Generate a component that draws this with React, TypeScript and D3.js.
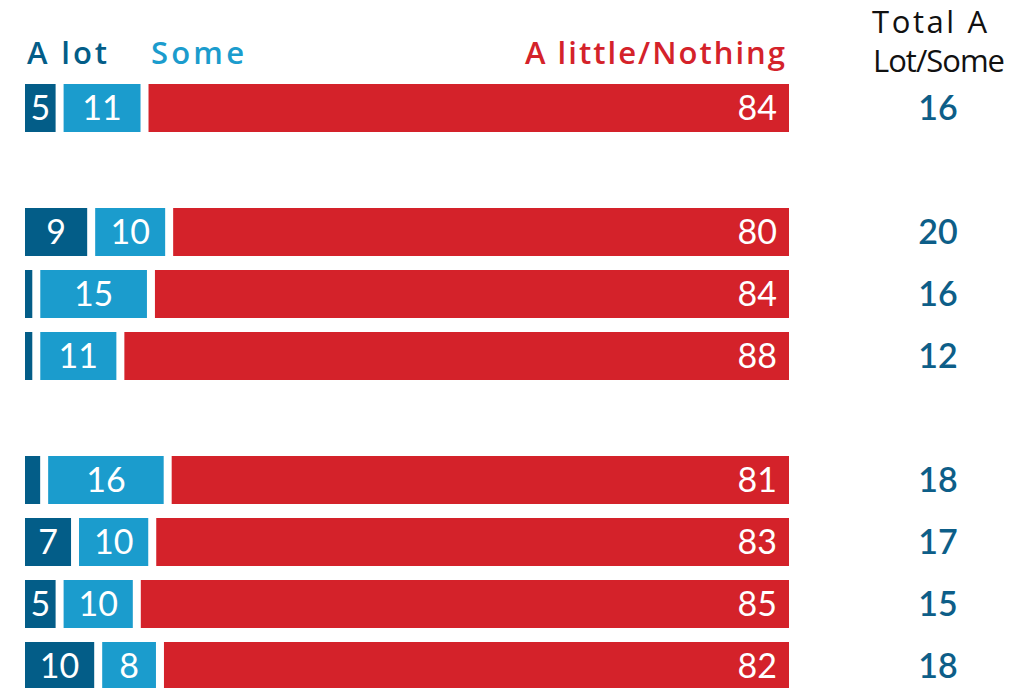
import React from "react";
import * as d3 from "d3";

const rowIds = ["row1", "blank1", "row2", "row3", "row4", "blank2", "row5", "row6", "row7", "row8"];
const barRows = ["row1", "row2", "row3", "row4", "row5", "row6", "row7", "row8"];
const aLot = [5, 9, 2, 2, 3, 7, 5, 10];
const some = [11, 10, 15, 11, 16, 10, 10, 8];
const littleNothing = [84, 80, 84, 88, 81, 83, 85, 82];
const totalALotSome = [16, 20, 16, 12, 18, 17, 15, 18];
const seriesKeys = ["aLot", "some", "little"];
const seriesNames = ["A lot", "Some", "A little/Nothing"];
const totalHeader = ["Total A", "Lot/Some"];
const colors = ["#035d88", "#1b9ccd", "#d4222a"];

const W = 1033;
const H = 688;
const FONT = "Lato, 'Open Sans', sans-serif";
const HFONT = "'Open Sans', Lato, sans-serif";

export default function App() {
  const data = barRows.map((id, i) => ({
    id,
    aLot: aLot[i],
    some: some[i],
    little: littleNothing[i],
    total: totalALotSome[i],
  }));

  const stack = d3.stack<any>().keys(seriesKeys).offset(d3.stackOffsetExpand);
  const series = stack(data);

  const x = d3.scaleLinear().domain([0, 1]).range([25, 797]);
  const y = d3
    .scaleBand<string>()
    .domain(rowIds)
    .range([77, 77 + 62 * rowIds.length])
    .paddingInner(14 / 62)
    .paddingOuter(7 / 62);
  const gap = 8;
  const bw = y.bandwidth();

  return (
    <svg width={W} height={H} style={{ position: "absolute", left: 0, top: 0, background: "#fff" }}>
      {/* headers */}
      <text x={27} y={64} fill={colors[0]} fontFamily={HFONT} fontSize={31} fontWeight={600} textLength={80} lengthAdjust="spacing">
        {seriesNames[0]}
      </text>
      <text x={151} y={64} fill={colors[1]} fontFamily={HFONT} fontSize={31} fontWeight={600} textLength={93} lengthAdjust="spacing">
        {seriesNames[1]}
      </text>
      <text x={525} y={64} fill={colors[2]} fontFamily={HFONT} fontSize={31} fontWeight={600} textLength={260} lengthAdjust="spacing">
        {seriesNames[2]}
      </text>
      <text x={872} y={33} fill="#111" fontFamily={HFONT} fontSize={31} fontWeight={500} textLength={115} lengthAdjust="spacing">
        {totalHeader[0]}
      </text>
      <text x={873} y={72} fill="#111" fontFamily={HFONT} fontSize={31} fontWeight={500} textLength={132} lengthAdjust="spacing">
        {totalHeader[1]}
      </text>

      {series.map((s, si) => (
        <g key={s.key}>
          {s.map((d, i) => {
            const x0 = x(d[0]);
            const w = Math.max(0, x(d[1]) - x0 - gap);
            const yy = y(data[i].id) as number;
            const val = (data[i] as any)[s.key];
            const showLabel = w > 28;
            const lx = si === 2 ? x0 + w - 12 : x0 + w / 2;
            return (
              <g key={i}>
                <rect x={x0} y={yy} width={w} height={bw} fill={colors[si]} />
                {showLabel && (
                  <text
                    x={lx}
                    y={yy + bw / 2}
                    dy="0.36em"
                    textAnchor={si === 2 ? "end" : "middle"}
                    fill="#fff"
                    fontFamily={FONT}
                    fontSize={34}
                  >
                    {val}
                  </text>
                )}
              </g>
            );
          })}
        </g>
      ))}

      {data.map((d) => (
        <text
          key={d.id}
          x={938}
          y={(y(d.id) as number) + bw / 2}
          dy="0.36em"
          textAnchor="middle"
          fill="#0d5e88"
          fontFamily={FONT}
          fontSize={34}
          fontWeight={600}
        >
          {d.total}
        </text>
      ))}
    </svg>
  );
}
